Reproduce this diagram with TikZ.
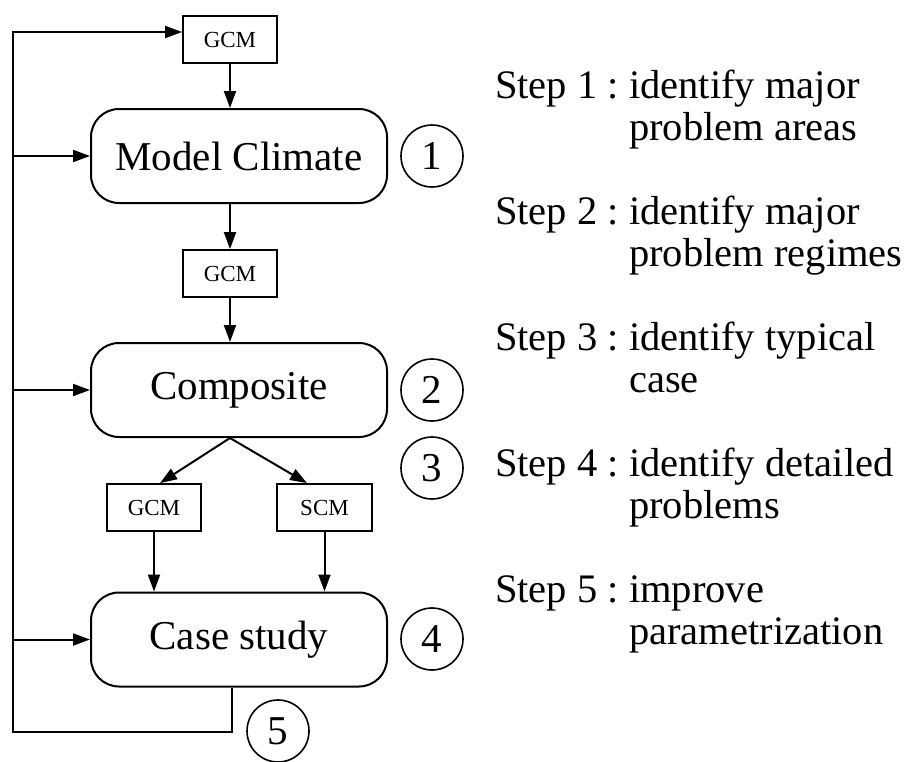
\documentclass[tikz,border=0pt]{standalone}
\usepackage{fontspec}
\setmainfont{Liberation Serif}
\usetikzlibrary{arrows.meta,calc}
\begin{document}
\begin{tikzpicture}[x=1pt,y=-1pt,
  box/.style={draw, line width=2pt, rounded corners=28pt, minimum width=296pt, minimum height=94pt, inner sep=0pt, font=\fontsize{41}{48}\selectfont},
  small/.style={draw, line width=1.8pt, minimum width=94pt, minimum height=47pt, inner sep=0pt, font=\fontsize{23}{28}\selectfont},
  num/.style={draw, circle, line width=1.6pt, minimum size=62pt, inner sep=0pt, font=\fontsize{41}{48}\selectfont},
  conn/.style={line width=2pt},
  arr/.style={conn, -{Triangle[length=17pt,width=12pt]}},
  txt/.style={anchor=base west, inner sep=0pt, font=\fontsize{40.5}{48}\selectfont}]
\useasboundingbox (0,0) rectangle (910,761);

% boxes
\node[small] (g1) at (230,39.5) {GCM};
\node[box] (mc) at (239,156) {Model Climate};
\node[small] (g2) at (230,273.5) {GCM};
\node[box] (comp) at (239,390) {Composite};
\node[small] (g3) at (154,507.5) {GCM};
\node[small, minimum width=95pt] (scm) at (324.5,507.5) {SCM};
\node[box] (cs) at (239,639.5) {Case study};

% circled numbers
\node[num] (n1) at (432,156) {1};
\node[num] (n2) at (432,390) {2};
\node[num] (n3) at (432,468) {3};
\node[num] (n4) at (432,639) {4};
\node[num] (n5) at (278,731) {5};

% main flow
\draw[arr] (g1.south) -- (g1.south |- mc.north);
\draw[arr] (mc.south -| g1) -- (g2.north);
\draw[arr] (g2.south) -- (g2.south |- comp.north);
\coordinate (sp) at (comp.south -| g2);
\draw[arr] (sp) -- ($(g3.north)+(6,0)$);
\draw[arr] (sp) -- ($(scm.north)+(-17.5,0)$);
\draw[arr] (g3.south) -- (g3.south |- cs.north);
\draw[arr] (scm.south) -- (scm.south |- cs.north);

% feedback loop
\coordinate (lt) at (13,32);
\coordinate (lb) at (13,732);
\coordinate (cb) at (232,732);
\draw[arr] (cs.south -| cb) -- (cb) -- (lb) -- (lt) -- (lt -| g1.west);
\draw[arr] (lt |- mc.west) -- (mc.west);
\draw[arr] (lt |- comp.west) -- (comp.west);
\draw[arr] (lt |- cs.west) -- (cs.west);

% step descriptions
\node[txt] (s1) at (495,98) {Step 1 :};
\node[txt] (s1a) at (629,98) {identify major};
\node[txt] (s1b) at (629,140) {problem areas};
\node[txt] (s2) at (495,224) {Step 2 :};
\node[txt] (s2a) at (629,224) {identify major};
\node[txt] (s2b) at (629,266) {problem regimes};
\node[txt] (s3) at (495,350) {Step 3 :};
\node[txt] (s3a) at (629,350) {identify typical};
\node[txt] (s3b) at (629,392) {case};
\node[txt] (s4) at (495,476) {Step 4 :};
\node[txt] (s4a) at (629,476) {identify detailed};
\node[txt] (s4b) at (629,518) {problems};
\node[txt] (s5) at (495,602) {Step 5 :};
\node[txt] (s5a) at (629,602) {improve};
\node[txt] (s5b) at (629,644) {parametrization};
\end{tikzpicture}
\end{document}
